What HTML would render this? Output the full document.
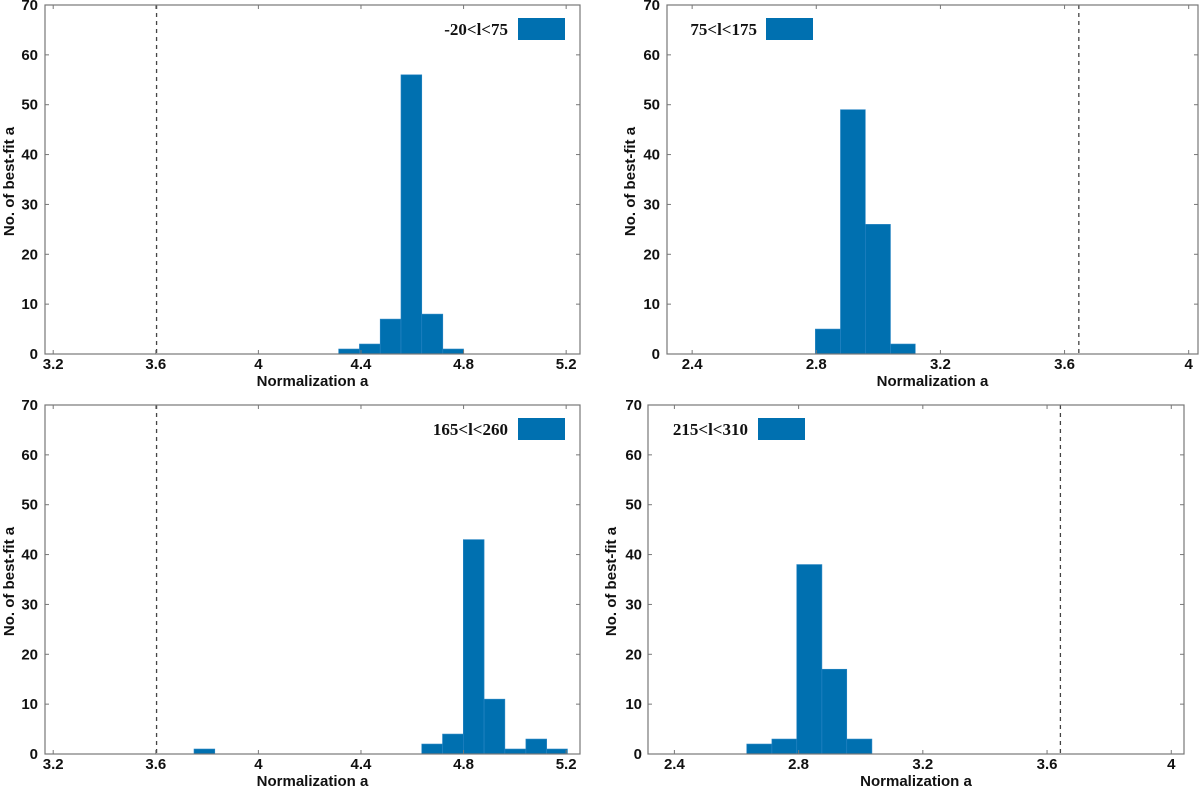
<!DOCTYPE html>
<html><head><meta charset="utf-8"><style>
html,body{margin:0;padding:0;background:#fff;}
svg{display:block;}
.tk{font-family:"Liberation Sans",Arial,sans-serif;font-weight:bold;font-size:15px;fill:#111;}
.lg{font-family:"Liberation Serif","Times New Roman",serif;font-weight:bold;font-size:17px;fill:#111;}
</style></head><body>
<svg id="chart" width="1200" height="786" viewBox="0 0 1200 786"></svg>
<script>
// ---- data ----
const p1Edges = [4.313, 4.394, 4.475, 4.556, 4.637, 4.719, 4.800];
const p1Counts = [1, 2, 7, 56, 8, 1];
const p1Label = "-20<l<75";
const p1Ref = 3.603;

const p2Edges = [2.797, 2.878, 2.958, 3.039, 3.119];
const p2Counts = [5, 49, 26, 2];
const p2Label = "75<l<175";
const p2Ref = 3.646;

const p3Edges = [3.749, 3.830, 3.911, 3.992, 4.073, 4.154, 4.235, 4.316, 4.397, 4.478, 4.559, 4.637, 4.718, 4.799, 4.880, 4.961, 5.043, 5.124, 5.205];
const p3Counts = [1, 0, 0, 0, 0, 0, 0, 0, 0, 0, 0, 2, 4, 43, 11, 1, 3, 1];
const p3Label = "165<l<260";
const p3Ref = 3.603;

const p4Edges = [2.633, 2.714, 2.794, 2.875, 2.955, 3.036];
const p4Counts = [2, 3, 38, 17, 3];
const p4Label = "215<l<310";
const p4Ref = 3.643;

const xTicksA = [3.2, 3.6, 4, 4.4, 4.8, 5.2];
const xTicksB = [2.4, 2.8, 3.2, 3.6, 4];
const yTicks = [0, 10, 20, 30, 40, 50, 60, 70];

// ---- layout ----
const panels = [
  {name:'top-left', edges:p1Edges, counts:p1Counts, label:p1Label, ref:p1Ref, ticks:xTicksA,
   L:45, R:580, T:5, B:354, xmin:3.168, xmax:5.254, legText:508, legBox:[518,18,47,22], yTitleX:9, tickLabR:38},
  {name:'top-right', edges:p2Edges, counts:p2Counts, label:p2Label, ref:p2Ref, ticks:xTicksB,
   L:667, R:1198, T:5, B:354, xmin:2.319, xmax:4.03, legText:757, legBox:[766,18,47,22], yTitleX:630, tickLabR:660},
  {name:'bottom-left', edges:p3Edges, counts:p3Counts, label:p3Label, ref:p3Ref, ticks:xTicksA,
   L:45, R:580, T:405, B:754, xmin:3.168, xmax:5.254, legText:508, legBox:[518,418,47,22], yTitleX:9, tickLabR:38},
  {name:'bottom-right', edges:p4Edges, counts:p4Counts, label:p4Label, ref:p4Ref, ticks:xTicksB,
   L:648, R:1184, T:405, B:754, xmin:2.315, xmax:4.041, legText:748, legBox:[758,418,47,22], yTitleX:611, tickLabR:642}
];
const NS = 'http://www.w3.org/2000/svg';
const svg = document.getElementById('chart');
function mk(tag, attrs, parent){
  const e = document.createElementNS(NS, tag);
  for (const k in attrs) e.setAttribute(k, attrs[k]);
  (parent||svg).appendChild(e);
  return e;
}
const BLUE = '#0070b0';
panels.forEach(p => {
  const g = mk('g', {});
  
  
  const xs = v => p.L + (v - p.xmin) / (p.xmax - p.xmin) * (p.R - p.L);
  const ys = v => p.B - v / 70 * (p.B - p.T);
  p.counts.forEach((c, i) => {
    if (c <= 0) return;
    const x0 = xs(p.edges[i]), x1 = xs(p.edges[i+1]);
    const r = mk('rect', {x:x0, y:ys(c), width:x1-x0, height:ys(0)-ys(c), fill:BLUE, stroke:'#2a86c4', 'stroke-width':0.6}, g);
    
    
  });
  const dl = mk('line', {x1:xs(p.ref), x2:xs(p.ref), y1:p.T, y2:p.B, stroke:'#444', 'stroke-width':1.3, 'stroke-dasharray':'4,4'}, g);
  
  
  const fr = mk('rect', {x:p.L, y:p.T, width:p.R-p.L, height:p.B-p.T, fill:'none', stroke:'#777', 'stroke-width':1.2}, g);
  
  
  yTicks.forEach(v => {
    const y = ys(v);
    mk('line', {x1:p.L, x2:p.L+4, y1:y, y2:y, stroke:'#777'}, g);
    mk('line', {x1:p.R, x2:p.R-4, y1:y, y2:y, stroke:'#777'}, g);
    const t = mk('text', {x:p.tickLabR, y:y+5, 'text-anchor':'end', class:'tk'}, g);
    t.textContent = v;
    
    
  });
  p.ticks.forEach(v => {
    const x = xs(v);
    mk('line', {x1:x, x2:x, y1:p.B, y2:p.B-4, stroke:'#777'}, g);
    mk('line', {x1:x, x2:x, y1:p.T, y2:p.T+4, stroke:'#777'}, g);
    const t = mk('text', {x:x, y:p.B+15, 'text-anchor':'middle', class:'tk'}, g);
    t.textContent = v;
    
    
  });
  const xt = mk('text', {x:(p.L+p.R)/2, y:p.B+32, 'text-anchor':'middle', class:'tk'}, g);
  xt.textContent = 'Normalization a';
  
  
  const cy = (p.T+p.B)/2 + 2;
  const yt = mk('text', {x:p.yTitleX, y:cy, 'text-anchor':'middle', class:'tk', transform:`rotate(-90 ${p.yTitleX} ${cy}) translate(0 5)`}, g);
  yt.textContent = 'No. of best-fit a';
  
  
  const lt = mk('text', {x:p.legText, y:p.legBox[1]+17, 'text-anchor':'end', class:'lg'}, g);
  lt.textContent = p.label;
  
  
  const lb = mk('rect', {x:p.legBox[0], y:p.legBox[1], width:p.legBox[2], height:p.legBox[3], fill:BLUE}, g);
  
  
});
</script>
</body></html>
